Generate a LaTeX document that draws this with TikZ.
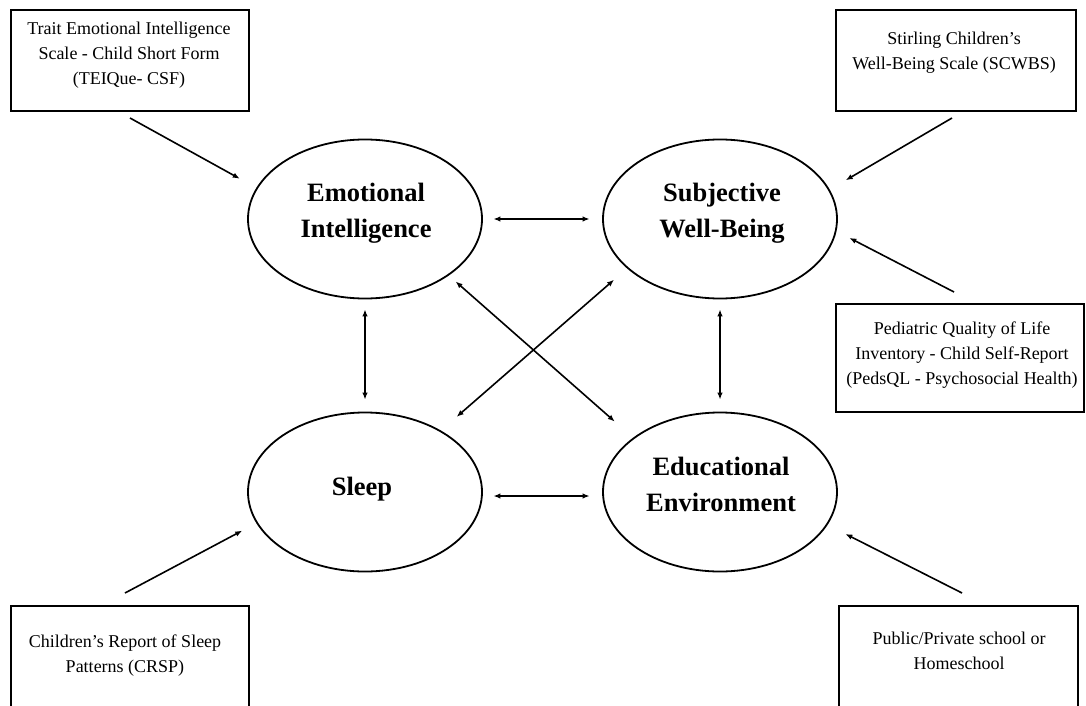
\documentclass[tikz,border=0pt]{standalone}
\usepackage{fontspec}
\setmainfont{Liberation Serif}
\usetikzlibrary{arrows.meta,shapes.geometric}

\begin{document}
\begin{tikzpicture}[x=1pt,y=-1pt,
  latent/.style={draw, ellipse, line width=1.8pt, minimum width=234pt, minimum height=159pt, inner sep=0pt},
  measure/.style={draw, rectangle, line width=1.8pt, inner sep=0pt, anchor=north west},
  factor/.style={font=\fontsize{26.5}{36.5}\selectfont\bfseries, align=center, anchor=north, inner sep=0pt},
  itemtext/.style={font=\fontsize{18}{25}\selectfont, align=center, anchor=north, inner sep=0pt},
  loading/.style={line width=1.6pt, -{Latex[length=7pt,width=5.5pt]}},
  corr/.style={line width=1.6pt, {Latex[length=7pt,width=5.5pt]}-{Latex[length=7pt,width=5.5pt]}}]
\useasboundingbox (0,0) rectangle (1086,706);
\clip (0,0) rectangle (1086,706);

% constructs
\node[latent] (ei) at (365,219) {};
\node[latent] (swb) at (720,219) {};
\node[latent] (sl) at (365,492) {};
\node[latent] (ee) at (720,492) {};
\node[factor] (ei-name) at (366,182.5) {Emotional\\Intelligence};
\node[factor] (swb-name) at (722,182.5) {Subjective\\Well-Being};
\node[factor] (sl-name) at (362,476.5) {Sleep};
\node[factor] (ee-name) at (721,456.5) {Educational\\Environment};

% measures
\node[measure, minimum width=238pt, minimum height=101pt] (tei) at (10,9) {};
\node[measure, minimum width=240pt, minimum height=101pt] (scwbs) at (835,9) {};
\node[measure, minimum width=248pt, minimum height=108pt] (peds) at (835,303) {};
\node[measure, minimum width=238pt, minimum height=104pt] (crsp) at (10,605) {};
\node[measure, minimum width=239pt, minimum height=104pt] (school) at (838,605) {};
\node[itemtext] (tei-text) at (129,21.5) {Trait Emotional Intelligence\\Scale - Child Short Form\\(TEIQue- CSF)};
\node[itemtext] (scwbs-text) at (954,32) {Stirling Children’s\\Well-Being Scale (SCWBS)};
\node[itemtext] (peds-text) at (962,321.5) {Pediatric Quality of Life\\Inventory - Child Self-Report\\(PedsQL - Psychosocial Health)};
\node[itemtext] (crsp-text) at (125,635) {Children’s Report of Sleep\\Patterns (CRSP)};
\node[itemtext] (school-text) at (959,631.5) {Public/Private school or\\Homeschool};

\coordinate (tei-out) at (130,118);
\coordinate (scwbs-out) at (952,118);
\coordinate (peds-out) at (954,292);
\coordinate (crsp-out) at (125,593);
\coordinate (school-out) at (962,593);

% measure -> construct
\draw[loading, shorten >=18.9pt] (tei-out) -- (ei.164.8);
\draw[loading, shorten >=18.5pt] (scwbs-out) -- (swb.15.2);
\draw[loading, shorten >=14.5pt] (peds-out) -- (swb.-6.1);
\draw[loading, shorten >=15.9pt] (crsp-out) -- (sl.196.3);
\draw[loading, shorten >=20pt] (school-out) -- (ee.-17.1);

% construct <-> construct
\draw[corr, shorten <=10.5pt, shorten >=12.5pt] (ei.east) -- (swb.west);
\draw[corr, shorten <=10.5pt, shorten >=12.5pt] ([yshift=-4pt]sl.east) -- ([yshift=-4pt]ee.west);
\draw[corr, shorten <=10pt, shorten >=12pt] (ei.south) -- (sl.north);
\draw[corr, shorten <=10pt, shorten >=12pt] (swb.south) -- (ee.north);
\draw[corr, shorten <=9pt, shorten >=24.4pt] (ei.-34.8) -- (ee.148.1);
\draw[corr, shorten <=17.2pt, shorten >=20.8pt] (swb.208.4) -- (sl.39.2);
\end{tikzpicture}
\end{document}
